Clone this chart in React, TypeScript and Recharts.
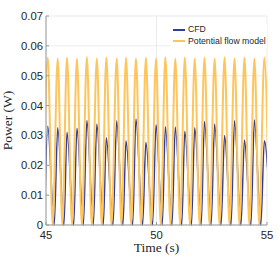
import * as React from 'react'
import { LineChart, Line, XAxis, YAxis, CartesianGrid } from 'recharts'

const BLUE = '#2f3d9e'
const ORANGE = '#fdc55c'

// times (s) of the lobe peaks, shared by both curves
const peakTimes = [
  45.08, 45.53, 45.95, 46.4, 46.85, 47.3, 47.73, 48.2, 48.62, 49.07, 49.52, 49.98,
  50.4, 50.85, 51.28, 51.73, 52.17, 52.63, 53.08, 53.53, 53.98, 54.43, 54.88,
]
// zero points of the potential flow curve
const potentialZeroTimes = [
  44.86, 45.3, 45.74, 46.18, 46.62, 47.07, 47.52, 47.96, 48.41, 48.85, 49.3, 49.75,
  50.19, 50.63, 51.07, 51.51, 51.95, 52.4, 52.85, 53.3, 53.75, 54.2, 54.65, 55.1,
]
// CFD falls back to zero a little later
const cfdZeroTimes = [
  44.93, 45.37, 45.81, 46.25, 46.69, 47.14, 47.59, 48.03, 48.48, 48.92, 49.37, 49.82,
  50.26, 50.7, 51.14, 51.58, 52.02, 52.47, 52.92, 53.37, 53.82, 54.27, 54.72, 55.17,
]
const cfdPeaks = [
  0.0331, 0.0326, 0.0311, 0.0324, 0.035, 0.0338, 0.0292, 0.0349, 0.0282, 0.0355, 0.0277, 0.0336,
  0.0329, 0.0328, 0.0314, 0.0326, 0.0347, 0.0338, 0.03, 0.0349, 0.0285, 0.0352, 0.0282,
]
const potentialPeaks = [
  0.0561, 0.0558, 0.0561, 0.0557, 0.0562, 0.0558, 0.0561, 0.0558, 0.0561, 0.0558, 0.0561, 0.0558,
  0.0562, 0.0558, 0.0561, 0.0558, 0.0561, 0.0558, 0.0562, 0.0558, 0.0561, 0.0558, 0.0561,
]
const xTicks = [45, 50, 55]
const yTicks = [0, 0.01, 0.02, 0.03, 0.04, 0.05, 0.06, 0.07]

type Row = { t: number; cfd?: number; pf?: number }
const rows: Row[] = [
  ...peakTimes.map((t, i) => ({ t, cfd: cfdPeaks[i], pf: potentialPeaks[i] })),
  ...potentialZeroTimes.map((t) => ({ t, pf: 0 })),
  ...cfdZeroTimes.map((t) => ({ t, cfd: 0 })),
].sort((a, b) => a.t - b.t)

const tickStyle = { fontSize: 11.3, fill: '#262626', fontFamily: 'Liberation Sans, Arial, sans-serif' }
const serif = 'Liberation Serif, Times New Roman, serif'

export default function App() {
  return (
    <div style={{ position: 'fixed', left: 0, top: 0, width: 278, height: 278, background: '#fff' }}>
      <LineChart width={278} height={278} data={rows} margin={{ top: 16, right: 11, bottom: 28, left: 0 }}>
        <CartesianGrid stroke="#e6e6e6" strokeWidth={0.8} />
        <XAxis
          dataKey="t"
          type="number"
          domain={[45, 55]}
          ticks={xTicks}
          allowDataOverflow
          height={25}
          stroke="#9a9a9a"
          tickSize={-3}
          tickMargin={9}
          tick={tickStyle}
          label={{
            content: () => (
              <text x={156.5} y={252} textAnchor="middle" fontSize={13.5} fontFamily={serif} fill="#262626">
                Time (s)
              </text>
            ),
          }}
        />
        <XAxis
          xAxisId="top"
          orientation="top"
          dataKey="t"
          type="number"
          domain={[45, 55]}
          ticks={xTicks}
          allowDataOverflow
          height={0}
          stroke="#9a9a9a"
          tickSize={-3}
          tick={false}
        />
        <YAxis
          type="number"
          domain={[0, 0.07]}
          ticks={yTicks}
          width={46}
          stroke="#9a9a9a"
          tickSize={-3}
          tickMargin={6}
          tick={tickStyle}
          tickFormatter={(v: number) => (v === 0 ? '0' : String(Number(v.toFixed(2))))}
          label={{
            content: () => (
              <text
                x={12}
                y={120.5}
                transform="rotate(-90 12 120.5)"
                textAnchor="middle"
                fontSize={13.5}
                fontFamily={serif}
                fill="#262626"
              >
                Power (W)
              </text>
            ),
          }}
        />
        <YAxis
          yAxisId="right"
          orientation="right"
          type="number"
          domain={[0, 0.07]}
          ticks={yTicks}
          width={0}
          stroke="#9a9a9a"
          tickSize={-3}
          tick={false}
        />
        <Line
          type="monotone"
          dataKey="cfd"
          name="CFD"
          stroke={BLUE}
          strokeWidth={1.5}
          dot={false}
          connectNulls
          isAnimationActive={false}
        />
        <Line
          type="monotone"
          dataKey="pf"
          name="Potential flow model"
          stroke={ORANGE}
          strokeWidth={2}
          dot={false}
          connectNulls
          isAnimationActive={false}
        />
      </LineChart>
      <div
        style={{
          position: 'absolute',
          left: 170,
          top: 24,
          width: 97,
          height: 25,
          background: '#fff',
          fontFamily: 'Liberation Sans, Arial, sans-serif',
          fontSize: 8.7,
          color: '#262626',
          lineHeight: '11.5px',
        }}
      >
        {[
          { label: 'CFD', color: BLUE },
          { label: 'Potential flow model', color: ORANGE },
        ].map((item) => (
          <div key={item.label} style={{ display: 'flex', alignItems: 'center', whiteSpace: 'nowrap' }}>
            <span style={{ display: 'inline-block', width: 12, height: 2, background: item.color, margin: '0 3px 0 3px' }} />
            {item.label}
          </div>
        ))}
      </div>
    </div>
  )
}
